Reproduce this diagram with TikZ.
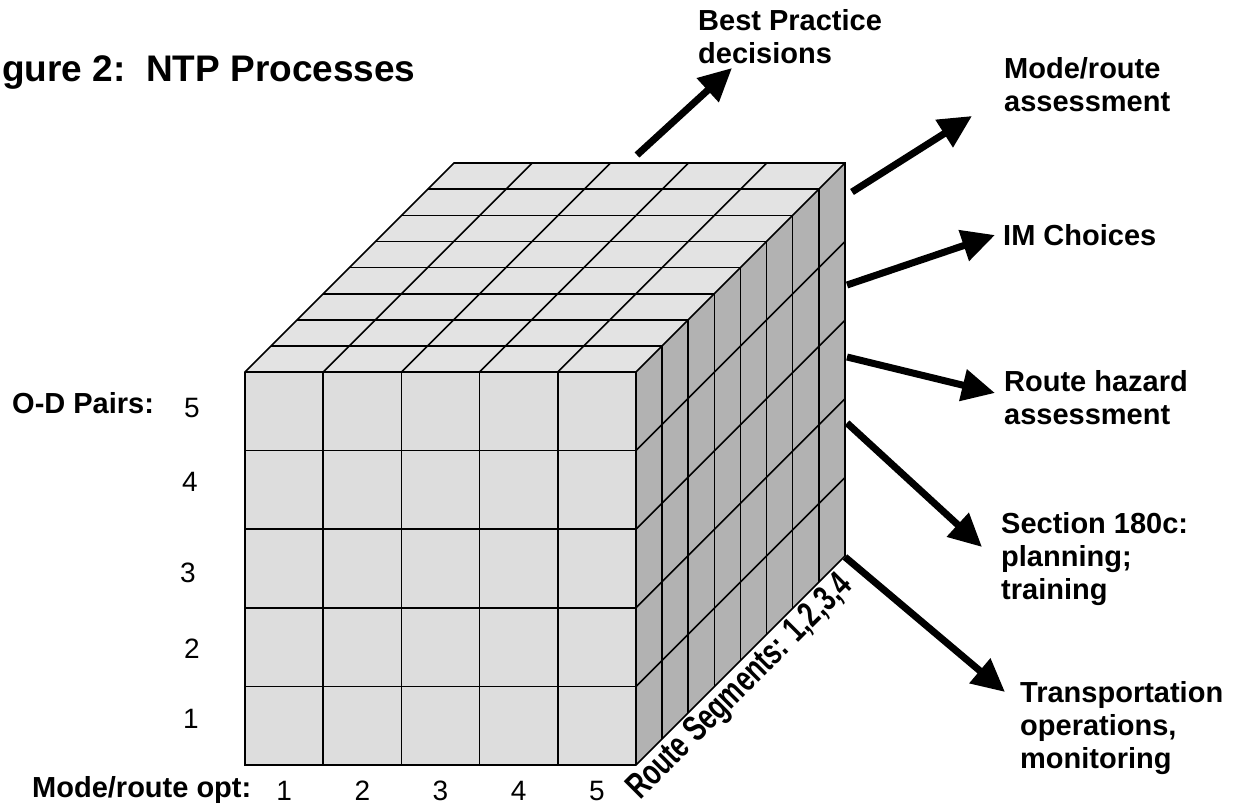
\documentclass[tikz,border=0pt]{standalone}
\usepackage{fontspec}
\usepackage{graphicx}
\setmainfont{Liberation Sans}
\usetikzlibrary{arrows.meta}
\definecolor{topgray}{HTML}{E3E3E3}
\definecolor{frontgray}{HTML}{DDDDDD}
\definecolor{sidegray}{HTML}{B2B2B2}
\tikzset{
  cubeline/.style={line width=1.6pt},
  bigarrow/.style={line width=7pt, -{Triangle[length=33pt,width=31pt]}},
  lbl/.style={anchor=base west, inner sep=0pt, font=\fontsize{29}{33}\selectfont\bfseries},
  num/.style={anchor=base, inner sep=0pt, font=\fontsize{28}{33}\selectfont}
}
\begin{document}
\begin{tikzpicture}[x=1pt, y=-1pt]
\useasboundingbox (0,0) rectangle (1241,805);

% faces of the block
\fill [frontgray] (245,372) rectangle (636,765);
\fill [topgray] (245,372)--(454,163)--(845,163)--(636,372)--cycle;
\fill [sidegray] (636,372)--(845,163)--(845,556)--(636,765)--cycle;

% grid
\foreach \i in {1,...,4}
{
  \draw [cubeline] ({245+78.2*\i},372)--({245+78.2*\i},765);
  \draw [cubeline] (245,{372+78.6*\i})--(636,{372+78.6*\i});
  \draw [cubeline] ({245+78.2*\i},372)--({454+78.2*\i},163);
  \draw [cubeline] (636,{372+78.6*\i})--(845,{163+78.6*\i});
}
\foreach \k in {1,...,7}
{
  \draw [cubeline] ({245+26.1*\k},{372-26.1*\k})--({636+26.1*\k},{372-26.1*\k})--({636+26.1*\k},{765-26.1*\k});
}
\draw [cubeline] (245,765)--(245,372)--(454,163)--(845,163)--(845,556)--(636,765)--cycle;
\draw [cubeline] (245,372)--(636,372)--(845,163);
\draw [cubeline] (636,372)--(636,765);

% title and axis labels
\node (title) [anchor=base west, inner sep=0pt, font=\fontsize{37}{44}\selectfont\bfseries] at (2,82) {gure 2:\ \ NTP Processes};
\node (odpairs) [lbl] at (12,413) {O-D Pairs:};
\node (modeopt) [lbl] at (32,797) {Mode/route opt:};
\node (segments) [anchor=base west, inner sep=0pt, rotate=45, font=\fontsize{36}{40}\selectfont\bfseries] at (640,801) {\scalebox{.72}[1]{Route Segments: 1,2,3,4}};

\foreach \n/\x/\y in {5/192/417, 4/190/491, 3/188/582, 2/192/658, 1/191/728}
  \node (od\n) [num] at (\x,\y) {\n};
\foreach \n in {1,...,5}
  \node (mr\n) [num] at ({245+78.2*\n-39.1},800) {\n};

% outputs
\node (best) [lbl] at (698,31) {\begin{tabular}[t]{@{}l@{}}Best Practice\\decisions\end{tabular}};
\node (mode) [lbl] at (1004,79) {\begin{tabular}[t]{@{}l@{}}Mode/route\\assessment\end{tabular}};
\node (im) [lbl] at (1003,245) {IM Choices};
\node (hazard) [lbl] at (1004,391) {\begin{tabular}[t]{@{}l@{}}Route hazard\\assessment\end{tabular}};
\node (section) [lbl] at (1001,533) {\begin{tabular}[t]{@{}l@{}}Section 180c:\\planning;\\training\end{tabular}};
\node (transport) [lbl] at (1020,702) {\begin{tabular}[t]{@{}l@{}}Transportation\\operations,\\monitoring\end{tabular}};

\foreach \n/\tx/\ty/\hx/\hy in {1/637/155/732/68, 2/852/192/972/116, 3/847/285/995/235, 4/847/357/995/393, 5/847/423/982/547, 6/845/557/1005/692}
{
  \coordinate (t\n) at (\tx,\ty);
  \coordinate (h\n) at (\hx,\hy);
  \draw [bigarrow] (t\n)--(h\n);
}
\end{tikzpicture}
\end{document}
